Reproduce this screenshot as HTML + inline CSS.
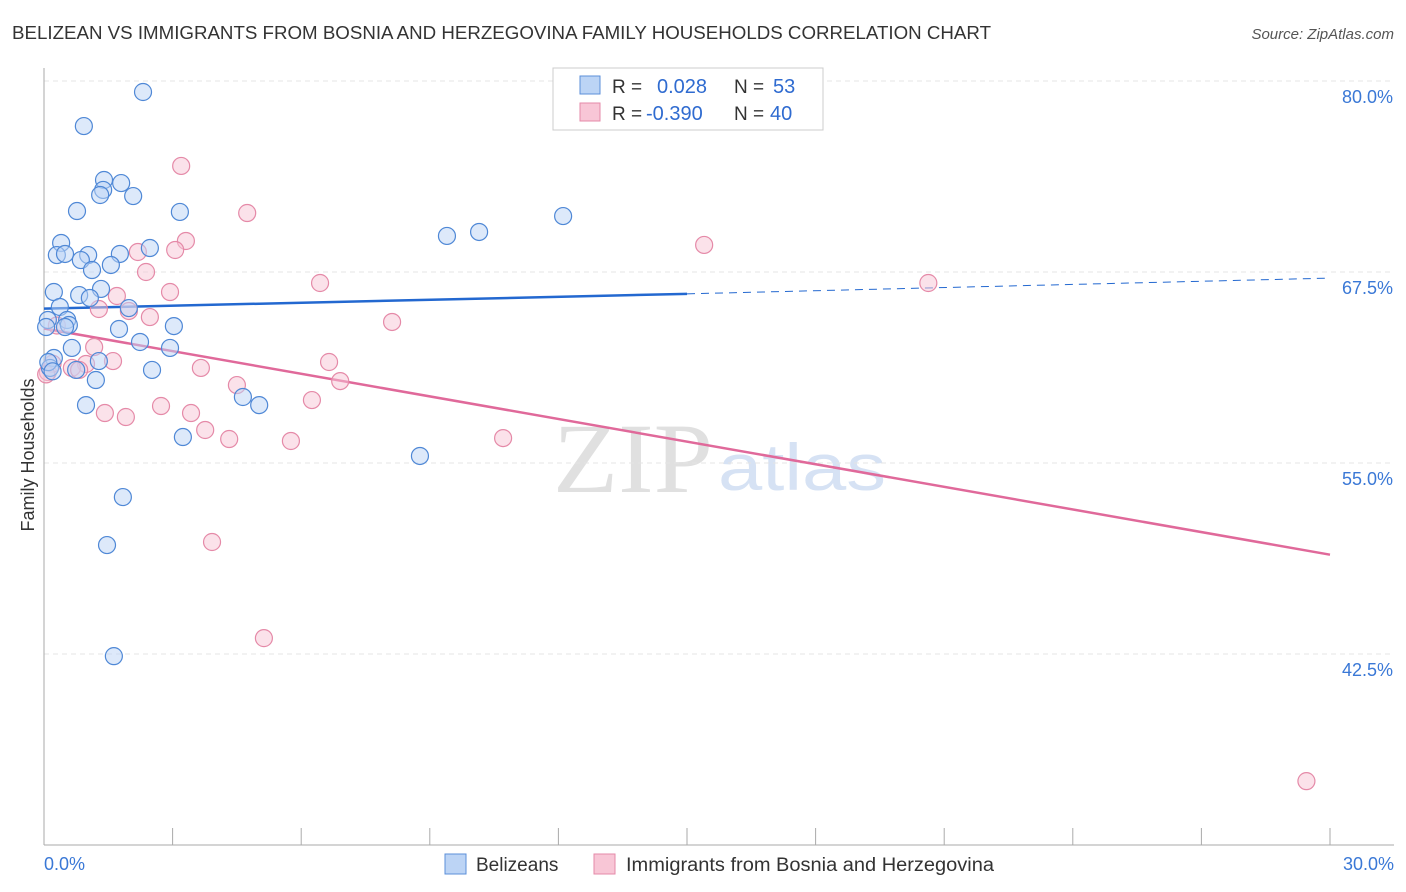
<!DOCTYPE html>
<html><head><meta charset="utf-8"><style>
body{margin:0;background:#fff;font-family:"Liberation Sans",sans-serif;}
svg{display:block}
</style></head><body>
<svg id="chart" width="1406" height="892">
<text x="12" y="39" font-size="18" fill="#333" textLength="979" lengthAdjust="spacingAndGlyphs">BELIZEAN VS IMMIGRANTS FROM BOSNIA AND HERZEGOVINA FAMILY HOUSEHOLDS CORRELATION CHART</text>
<text x="1394" y="39" font-size="15" fill="#555" font-style="italic" text-anchor="end">Source: ZipAtlas.com</text>
<text x="553" y="492" font-size="100" fill="#e0e0e0" font-family="Liberation Serif,serif" textLength="160" lengthAdjust="spacingAndGlyphs">ZIP</text>
<text x="718" y="490" font-size="66" fill="#d6e2f4" textLength="168" lengthAdjust="spacingAndGlyphs">atlas</text>
<text transform="translate(34,455) rotate(-90)" font-size="18" fill="#333" text-anchor="middle">Family Households</text>
<g id="grid"></g><g id="axes"></g><g id="lines"></g><g id="pts"></g>
<g>
<rect x="553" y="68" width="270" height="62" fill="#fff" stroke="#ccc"/>
<rect x="580" y="76" width="20" height="18" fill="#bcd4f5" stroke="#5b8fd9"/>
<rect x="580" y="103" width="20" height="18" fill="#f8c6d6" stroke="#e58aa8"/>
<text x="612" y="93" font-size="19" fill="#333">R = </text><text x="657" y="93" font-size="20" fill="#2f6bd0">0.028</text>
<text x="734" y="93" font-size="19" fill="#333">N = </text><text x="773" y="93" font-size="20" fill="#2f6bd0">53</text>
<text x="612" y="120" font-size="19" fill="#333">R = </text><text x="646" y="120" font-size="20" fill="#2f6bd0">-0.390</text>
<text x="734" y="120" font-size="19" fill="#333">N = </text><text x="770" y="120" font-size="20" fill="#2f6bd0">40</text>
</g>
<g>
<rect x="445" y="854" width="21" height="20" fill="#bcd4f5" stroke="#5b8fd9"/>
<text x="476" y="871" font-size="19" fill="#333">Belizeans</text>
<rect x="594" y="854" width="21" height="20" fill="#f8c6d6" stroke="#e58aa8"/>
<text x="626" y="871" font-size="19" fill="#333" textLength="368" lengthAdjust="spacingAndGlyphs">Immigrants from Bosnia and Herzegovina</text>
</g>
</svg>
<script>
const blueX=[2.31,0.93,1.40,1.80,1.38,1.31,2.08,0.77,3.17,12.11,10.15,9.40,0.40,2.47,0.30,0.49,1.03,1.77,0.86,1.56,1.12,1.33,0.23,0.82,1.07,0.37,1.98,0.09,0.54,0.58,0.49,3.03,1.75,2.24,2.94,0.65,0.23,1.28,0.14,0.75,2.52,1.21,4.64,5.02,0.98,3.24,8.77,1.84,1.47,1.63,0.1,0.2,0.05];
const blueY=[79.28,77.05,73.52,73.32,72.87,72.54,72.47,71.49,71.43,71.16,70.12,69.86,69.40,69.07,68.61,68.68,68.61,68.68,68.28,67.96,67.63,66.39,66.19,65.99,65.80,65.21,65.14,64.36,64.36,64.03,63.90,63.96,63.77,62.92,62.53,62.53,61.87,61.67,61.22,61.09,61.09,60.43,59.32,58.79,58.79,56.70,55.46,52.77,49.63,42.36,61.6,61.0,63.9];
const pinkX=[3.20,4.74,15.40,3.31,3.06,2.19,2.38,6.44,20.63,2.94,1.70,1.28,1.98,2.47,8.12,1.17,6.65,1.61,3.66,0.98,0.65,0.82,0.09,6.91,4.50,6.25,2.73,1.42,3.43,1.91,3.76,4.32,5.76,10.71,3.92,5.13,29.45,0.2,0.05,0.3];
const pinkY=[74.44,71.36,69.27,69.53,68.94,68.81,67.50,66.78,66.78,66.19,65.93,65.08,64.95,64.55,64.23,62.59,61.61,61.67,61.22,61.48,61.22,61.09,60.95,60.36,60.10,59.12,58.73,58.27,58.27,58.01,57.16,56.57,56.44,56.63,49.83,43.54,34.18,61.5,60.8,64.0];
const yTicks=[80,67.5,55,42.5];
const yTickLabels=["80.0%","67.5%","55.0%","42.5%"];
const xEnds=["0.0%","30.0%"];
const blueTrend=[65.1,66.07,67.1];
const pinkTrend=[63.8,49.0];
const X=v=>44+v/30*1286, Y=v=>81+(80-v)/12.5*191;
const NS="http://www.w3.org/2000/svg";
function mk(p,t,a){const e=document.createElementNS(NS,t);for(const k in a)e.setAttribute(k,a[k]);document.getElementById(p).appendChild(e);return e;}
yTicks.forEach((v,i)=>{
 const l=mk('grid','line',{x1:44,x2:1394,y1:Y(v),y2:Y(v),stroke:'#e4e4e4','stroke-dasharray':'5,4'});
 
 
 const t=mk('grid','text',{x:1393,y:Y(v)+22,'font-size':18,fill:'#3a78d6','text-anchor':'end'});
 t.textContent=yTickLabels[i];
 
 
});
let a=mk('axes','line',{x1:44,x2:44,y1:68,y2:845,stroke:'#aaa'});


a=mk('axes','line',{x1:44,x2:1394,y1:845,y2:845,stroke:'#aaa'});


for(let i=1;i<=10;i++){const t=mk('axes','line',{x1:X(i*3),x2:X(i*3),y1:828,y2:845,stroke:'#aaa'});
 
 }
let t=mk('axes','text',{x:44,y:870,'font-size':18,fill:'#3a78d6'});t.textContent=xEnds[0];


t=mk('axes','text',{x:1394,y:870,'font-size':18,fill:'#3a78d6','text-anchor':'end'});t.textContent=xEnds[1];


function pts(xs,ys,fill,stroke,name){xs.forEach((x,i)=>{const c=mk('pts','circle',{cx:X(x),cy:Y(ys[i]),r:8.5,fill:fill,'fill-opacity':0.5,stroke:stroke,'stroke-width':1.2});
 
 });}
pts(pinkX,pinkY,'#f8c6d6','#e58aa8','bosnia-point');
pts(blueX,blueY,'#bcd4f5','#4f88d6','belizean-point');
let l=mk('lines','line',{x1:X(0),y1:Y(blueTrend[0]),x2:X(15),y2:Y(blueTrend[1]),stroke:'#2368d0','stroke-width':2.5});


l=mk('lines','line',{x1:X(15),y1:Y(blueTrend[1]),x2:X(30),y2:Y(blueTrend[2]),stroke:'#2368d0','stroke-width':1,'stroke-dasharray':'8,6'});


l=mk('lines','line',{x1:X(0),y1:Y(pinkTrend[0]),x2:X(30),y2:Y(pinkTrend[1]),stroke:'#e0699a','stroke-width':2.5});


</script>
</body></html>
